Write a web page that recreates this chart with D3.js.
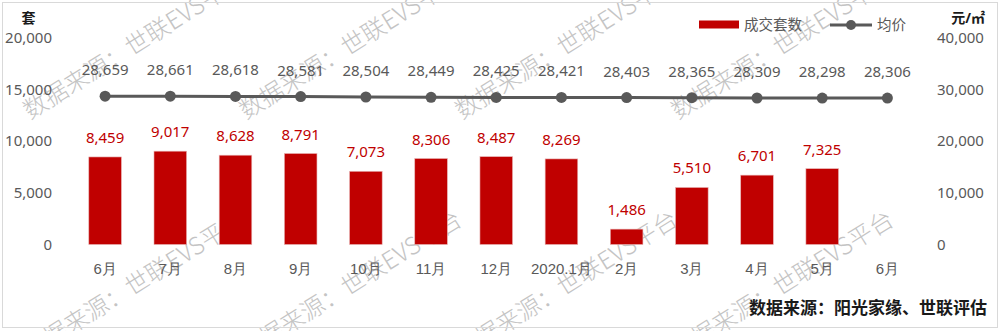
<!DOCTYPE html>
<html>
<head>
<meta charset="utf-8">
<script src="https://cdn.jsdelivr.net/npm/d3@7"></script>
<style>
  html, body { margin: 0; padding: 0; background: #fff; }
  svg { display: block; font-family: "Noto Sans", "Noto Sans CJK SC", sans-serif; }
</style>
</head>
<body>
<svg id="chart" width="1000" height="331"></svg>
<script>
const categories = ["6月","7月","8月","9月","10月","11月","12月","2020.1月","2月","3月","4月","5月","6月"];
const volume = [8459, 9017, 8628, 8791, 7073, 8306, 8487, 8269, 1486, 5510, 6701, 7325, null];
const price = [28659, 28661, 28618, 28581, 28504, 28449, 28425, 28421, 28403, 28365, 28309, 28298, 28306];
const leftTicks = [0, 5000, 10000, 15000, 20000];
const rightTicks = [0, 10000, 20000, 30000, 40000];
const seriesNames = ["成交套数", "均价"];
const leftUnit = "套";
const rightUnit = "元/㎡";
const sourceText = "数据来源：阳光家缘、世联评估";
const watermarkText = "数据来源：世联EVS平台";

const svg = d3.select("#chart");
const fmt = d3.format(",");
const gray = "#595959";
const red = "#C00000";

svg.append("rect").attr("x", 0).attr("y", 0).attr("width", 1000).attr("height", 331).attr("fill", "#fff");

// watermarks (behind the chart)
const wm = svg.append("g").attr("class", "watermarks");
[120, 360].forEach(y0 => {
  [30, 246, 462, 678].forEach(x0 => {
    wm.append("text")
      .attr("transform", `translate(${x0},${y0}) rotate(-32)`)
      .attr("font-family", "'Noto Sans CJK SC', sans-serif")
      .attr("font-size", 24)
      .attr("font-weight", 300)
      .attr("fill", "#c4c4c4")
      .text(watermarkText);
  });
});

svg.append("rect").attr("x", 2.5).attr("y", 2.5).attr("width", 995).attr("height", 325)
  .attr("fill", "none").attr("stroke", "#d9d9d9").attr("stroke-width", 1);

const idx = categories.map((d, i) => i);
const x = d3.scaleBand().domain(idx).range([72.5, 920]).paddingInner(0.5).paddingOuter(0.25);
const yL = d3.scaleLinear().domain([0, 20000]).range([244.5, 37.5]);
const yR = d3.scaleLinear().domain([0, 40000]).range([244.5, 37.5]);

// left axis
const gL = svg.append("g").attr("transform", "translate(52,0)")
  .call(d3.axisLeft(yL).tickValues(leftTicks).tickSize(0).tickPadding(0).tickFormat(fmt));
gL.select(".domain").remove();
gL.selectAll("text").attr("font-size", 15).attr("fill", gray).attr("font-family", "'Noto Sans', sans-serif");

// right axis
const gR = svg.append("g").attr("transform", "translate(937,0)")
  .call(d3.axisRight(yR).tickValues(rightTicks).tickSize(0).tickPadding(0).tickFormat(fmt));
gR.select(".domain").remove();
gR.selectAll("text").attr("font-size", 15).attr("fill", gray).attr("font-family", "'Noto Sans', sans-serif");

// x axis
const gX = svg.append("g").attr("transform", "translate(0,244.5)")
  .call(d3.axisBottom(x).tickSize(0).tickFormat(i => categories[i]));
gX.select(".domain").remove();
gX.selectAll("text").attr("font-size", 15).attr("fill", gray).attr("y", 29.5).attr("dy", 0);

// bars
const barData = idx.filter(i => volume[i] != null);
svg.append("g").selectAll("rect").data(barData).join("rect")
  .attr("x", i => x(i))
  .attr("width", x.bandwidth())
  .attr("y", i => yL(volume[i]))
  .attr("height", i => yL(0) - yL(volume[i]))
  .attr("fill", red)
  .attr("stroke", "#e8b4b4").attr("stroke-width", 0.6);

svg.append("g").selectAll("text").data(barData).join("text")
  .attr("x", i => x(i) + x.bandwidth() / 2)
  .attr("y", i => yL(volume[i]) - 14)
  .attr("text-anchor", "middle")
  .attr("font-size", 15)
  .attr("fill", red)
  .text(i => fmt(volume[i]));

// line
const cx = i => x(i) + x.bandwidth() / 2;
const line = d3.line().x(i => cx(i)).y(i => yR(price[i]));
svg.append("path").datum(idx).attr("d", line)
  .attr("fill", "none").attr("stroke", gray).attr("stroke-width", 3);
svg.append("g").selectAll("circle").data(idx).join("circle")
  .attr("cx", cx).attr("cy", i => yR(price[i])).attr("r", 5.5).attr("fill", gray);
svg.append("g").selectAll("text").data(idx).join("text")
  .attr("x", cx)
  .attr("y", i => yR(price[i]) - 21)
  .attr("text-anchor", "middle")
  .attr("font-size", 15)
  .attr("fill", gray)
  .text(i => fmt(price[i]));

// units
svg.append("text").attr("x", 28.5).attr("y", 23).attr("text-anchor", "middle")
  .attr("font-size", 14).attr("font-weight", "bold").attr("fill", "#1a1a1a").text(leftUnit);
svg.append("text").attr("x", 985).attr("y", 23).attr("text-anchor", "end")
  .attr("font-size", 14).attr("font-weight", "bold").attr("fill", "#1a1a1a").text(rightUnit);

// legend
const lg = svg.append("g");
lg.append("rect").attr("x", 699).attr("y", 20.5).attr("width", 40).attr("height", 8).attr("fill", red);
lg.append("text").attr("x", 744).attr("y", 30).attr("font-size", 14.5).attr("fill", gray).text(seriesNames[0]);
lg.append("line").attr("x1", 830).attr("x2", 872).attr("y1", 25).attr("y2", 25)
  .attr("stroke", gray).attr("stroke-width", 3);
lg.append("circle").attr("cx", 851).attr("cy", 25).attr("r", 5).attr("fill", gray);
lg.append("text").attr("x", 877).attr("y", 30).attr("font-size", 14.5).attr("fill", gray).text(seriesNames[1]);

// source
svg.append("text").attr("x", 987).attr("y", 314).attr("text-anchor", "end")
  .attr("font-size", 17).attr("font-weight", "bold").attr("fill", "#1a1a1a")
  .attr("font-family", "'Noto Sans CJK SC', sans-serif")
  .text(sourceText);
</script>
</body>
</html>
